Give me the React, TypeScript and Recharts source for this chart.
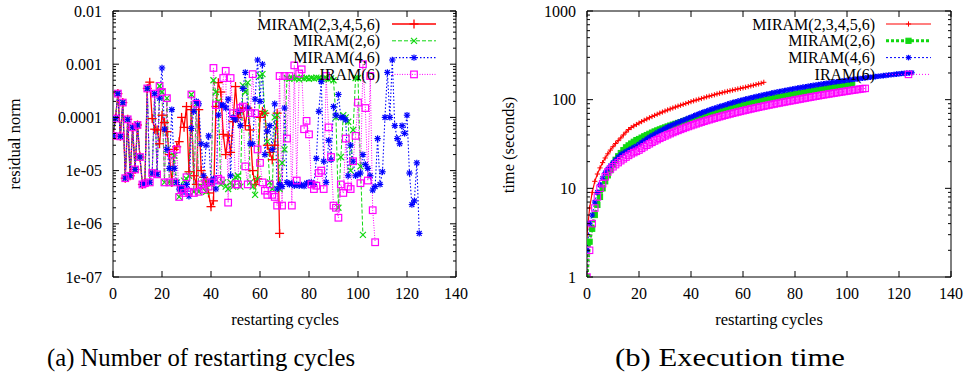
import React from "react";
import { LineChart, Line, XAxis, YAxis, Legend } from "recharts";

const FONT = "'Liberation Serif', 'Times New Roman', serif";

const cycleTicks = [0, 20, 40, 60, 80, 100, 120, 140];
const residualDecades = [1e-7, 1e-6, 1e-5, 1e-4, 1e-3, 1e-2];
const residualLabels = ["1e-07", "1e-06", "1e-05", "0.0001", "0.001", "0.01"];
const timeDecades = [1, 10, 100, 1000];
const timeLabels = ["1", "10", "100", "1000"];
const minorSteps = [1, 2, 3, 4, 5, 6, 7, 8, 9];
const seriesNames = ["MIRAM(2,3,4,5,6)", "MIRAM(2,6)", "MIRAM(4,6)", "IRAM(6)"];

// residual norm per restarting cycle (index = cycle)
const redResidual = [
  4.5e-5, 9.5e-5, 2.8e-4, 4.4e-5, 1.9e-4, 7.2e-6, 9.2e-5, 8e-6, 6.5e-5, 1.05e-5, 7.2e-5, 1.8e-5, 5.5e-6, 5.8e-6, 3.5e-4,
  4.6e-4, 9.5e-5, 6e-5, 5.8e-5, 3.2e-5, 1.1e-4, 8e-5, 5.4e-5, 2e-5, 6e-6,
  2.5e-5, 2.8e-5, 3.5e-5, 1e-4, 6.5e-5, 1.6e-4, 9.5e-6, 1.4e-4, 8e-6, 5.5e-6,
  1.4e-4, 1e-5, 7.5e-6, 6e-6, 3.8e-6, 2.1e-6, 2.7e-6, 1.6e-4, 4.5e-4, 3e-4,
  4.8e-5, 2e-5, 4.5e-5, 2.2e-5, 8.3e-5, 3.8e-4, 1e-4, 1.3e-4, 1.5e-4, 7e-5,
  1.5e-4, 5.8e-5, 1e-5, 5.5e-6, 7e-6, 1e-4, 1.3e-4, 1.2e-4, 3e-5, 2.2e-5,
  1.6e-5, 3e-5, 1.2e-4, 6.6e-7,
];
const greenResidual = [
  4.5e-5, 9.5e-5, 2.8e-4, 4.4e-5, 1.9e-4, 7.2e-6, 9.2e-5, 8e-6, 6.5e-5, 1.05e-5, 7.2e-5, 1.8e-5, 5.5e-6, 5.8e-6, 3.5e-4,
  6e-6, 9e-6, 2.8e-4, 8.5e-6, 3.9e-4, 3e-4, 6e-6, 2.3e-4, 6e-6, 6e-6,
  1.9e-5, 6e-6, 3.2e-6, 4.5e-6, 6.5e-6, 7e-6, 8e-6, 2.7e-4, 4e-6, 1.8e-4,
  4e-6, 5e-6, 6e-6, 4e-6, 6.5e-6, 5.5e-6, 5e-4, 3e-4, 2e-4, 5.5e-6,
  6e-6, 5e-6, 4.5e-6, 6e-6, 5e-6, 7.5e-6, 8e-6, 5e-6, 4e-4, 3e-4,
  4.5e-4, 6e-6, 5e-6, 3.5e-6, 7e-6, 6e-4, 6.5e-4, 1.2e-4, 3.5e-5, 6e-6,
  4.5e-6, 1e-4, 1.1e-4, 4.5e-6, 1.4e-5, 2.5e-5, 5.5e-4, 5.3e-4, 5.6e-4, 5.4e-4,
  5.5e-4, 5.2e-4, 5.6e-4, 5.4e-4, 5.5e-4, 5.3e-4, 5.5e-4, 5.4e-4, 5.6e-4, 5.5e-4,
  5.3e-4, 5.4e-4, 5.5e-4, 5.2e-4, 5.4e-4, 5e-4, 1e-4, 2e-6, 1.8e-5, 1.1e-4,
  1e-4, 8.3e-5, 1e-5, 5.8e-5, 5.5e-4, 5.5e-4, 1.2e-5, 6.2e-7,
];
const blueResidual = [
  4.5e-5, 9.5e-5, 2.8e-4, 4.4e-5, 1.9e-4, 7.2e-6, 9.2e-5, 8e-6, 6.5e-5, 1.05e-5, 7.2e-5, 1.8e-5, 5.5e-6, 5.8e-6, 3.5e-4,
  6e-6, 9e-6, 2.8e-4, 8.5e-6, 2.3e-4, 8.5e-4, 6e-5, 2.5e-5, 1.1e-5, 1.4e-4,
  1.1e-5, 6e-6, 4.5e-6, 5e-6, 4e-6, 5.5e-6, 3.3e-6, 6.2e-5, 1.3e-4, 2e-4,
  1.8e-4, 3.2e-5, 8e-6, 3e-5, 4.5e-5, 6e-6, 7e-6, 4.5e-6, 1.1e-4, 1.7e-4,
  1.7e-4, 1.5e-4, 2.2e-4, 8e-6, 1e-4, 9e-5, 1.3e-4, 7e-5, 3.5e-4, 7e-4,
  1.5e-4, 3.2e-5, 3.2e-5, 2.2e-4, 1.2e-3, 2e-4, 1e-3, 2e-5, 5.5e-5, 7e-5,
  2.5e-5, 1.8e-4, 4.5e-6, 5.5e-6, 5e-6, 1.5e-4, 6e-6, 5.5e-6, 5.8e-6, 5.2e-6,
  5.5e-6, 5.2e-6, 5.4e-6, 5.1e-6, 5.8e-6, 6e-6, 6e-6, 5.5e-6, 1.7e-5, 1.3e-4,
  4.7e-4, 1.5e-5, 6e-6, 3.7e-5, 1.6e-5, 1.6e-4, 1.1e-4, 2.7e-4, 1e-4, 1e-4,
  9e-5, 8e-6, 3e-5, 1.5e-5, 8e-6, 8.5e-6, 9e-6, 2e-5, 1.3e-5, 1.1e-5,
  8e-6, 4.3e-6, 5e-6, 4e-5, 5.5e-6, 9.5e-6, 1e-4, 7e-4, 1e-4, 1.2e-3,
  7e-5, 4e-5, 3.2e-5, 7e-5, 5e-5, 1.1e-4, 9e-6, 2.3e-6, 2.7e-6, 1.4e-5,
  6.6e-7,
];
const magentaResidual = [
  4.5e-5, 9.5e-5, 2.8e-4, 4.4e-5, 1.9e-4, 7.2e-6, 9.2e-5, 8e-6, 6.5e-5, 1.05e-5, 7.2e-5, 1.8e-5, 5.5e-6, 5.8e-6, 3.5e-4,
  6e-6, 9e-6, 2.8e-4, 8.5e-6, 3.9e-4, 3e-4, 6e-6, 2.3e-4, 6e-6, 2e-5,
  6e-6, 2.5e-5, 3.2e-6, 4.5e-6, 3.8e-6, 7.5e-6, 4e-6, 2.7e-4, 3.8e-6, 1.8e-4,
  4e-6, 5.5e-6, 4.5e-6, 6e-6, 5e-6, 6e-6, 8.5e-4, 1.7e-4, 7e-6, 6.5e-6,
  5.5e-4, 7.5e-4, 2.5e-6, 5.5e-4, 1.2e-4, 5.5e-6, 5.5e-6, 1.5e-4, 1.6e-4, 1.2e-5,
  5.5e-6, 1.2e-4, 6.5e-4, 1.2e-4, 2.5e-5, 1.4e-5, 6e-6, 4.2e-6, 3.5e-6, 5.5e-6,
  3.5e-6, 3.2e-6, 2.2e-6, 6e-4, 2.2e-6, 6e-4, 4e-5, 6e-4, 2.2e-6, 9.5e-4,
  6.5e-6, 6.7e-4, 8e-4, 6e-5, 8.6e-5, 4.8e-5, 5.5e-6, 4.5e-6, 5.2e-6, 9e-6,
  1e-5, 4.5e-6, 6e-4, 6.5e-5, 1.8e-5, 2.2e-6, 2e-6, 1.3e-6, 5.5e-6, 3.8e-6,
  4e-5, 5e-6, 4.5e-6, 1.5e-5, 4.5e-5, 1.9e-4, 5.8e-6, 1e-3, 1.5e-4, 6.5e-6,
  6e-4, 1.8e-6, 4.5e-7,
];

// cumulative execution time (seconds) per restarting cycle
const redTime = [
  3, 6, 9, 12, 14.5, 17, 19.5, 22, 24.5, 27, 29.5, 32, 34.5, 37, 40, 43, 46, 48.5, 50.5, 52.5,
  54.5, 56.5, 58.5, 60.5, 62.5, 64.5, 66.5, 68.5, 70.5, 72.5,
  74.5, 76.5, 78.5, 80.5, 82.5, 84.5, 86.5, 88.5, 90.5, 92.5,
  95, 97, 99, 101, 103, 105, 107.5, 109.5, 111.5, 113.5,
  116, 118, 120, 122, 124, 126, 128, 130, 132, 134,
  136, 138, 140.5, 143, 145.5, 148, 150.5, 153, 157,
];
const greenTime = [
  1, 2.5, 3.5, 5, 6.5, 8, 10, 12, 14, 16, 18.5, 21, 23, 25, 27, 29, 30.5, 32, 33.5, 35,
  36, 37.3, 38.6, 39.9, 41.2, 42.5, 43.8, 45, 46.2, 47.4, 48.6, 49.8, 51, 52.2, 53.4, 54.6, 55.8, 57, 58.2, 59.4,
  60.6, 61.9, 63.2, 64.5, 65.8, 67.1, 68.4, 69.7, 71, 72.3, 73.6, 75, 76.4, 77.8, 79.2, 80.6, 82, 83.4, 84.8, 86.2,
  87.6, 89, 90.4, 91.8, 93.2, 94.6, 96, 97.4, 98.8, 100.2, 101.6, 103, 104.4, 105.8, 107.2, 108.6, 110, 111.4, 112.8, 114.2,
  115.6, 117, 118.5, 120, 121.5, 123, 124.5, 126, 127.5, 129, 130.5, 132, 133.5, 135, 136.5, 138, 139.5, 141, 142.5, 144,
  145.5, 147, 148.5,
];
const blueTime = [
  2, 4, 5, 7, 9, 11, 13, 15, 16.5, 18, 19.5, 21, 22.5, 24, 25, 26, 27, 28, 29, 30,
  31.5, 33, 34.6, 36.2, 37.8, 39.4, 41, 42.6, 44.2, 45.8, 47.4, 49, 50.6, 52.2, 53.8, 55.4, 57, 58.6, 60.2, 62,
  63.8, 65.6, 67.4, 69.2, 71, 72.8, 74.6, 76.4, 78.2, 80, 81.8, 83.6, 85.4, 87.2, 89, 90.8, 92.6, 94.4, 96.2, 98,
  99.8, 101.5, 103.2, 104.9, 106.6, 108.3, 110, 111.7, 113.4, 115.1, 116.8, 118.5, 120.2, 121.9, 123.6, 125.3, 127, 128.7, 130.4, 132,
  133.6, 135.2, 136.8, 138.4, 140, 141.6, 143.2, 144.8, 146.4, 148, 149.6, 151.2, 152.8, 154.4, 156, 157.6, 159.2, 160.8, 162.4, 164,
  165.5, 167, 168.5, 170, 171.5, 173, 174.5, 176, 177.5, 179, 180.5, 182, 183.5, 185, 186.5, 188, 189.5, 191, 192.5, 194,
  195.5, 197, 198, 199, 200, 201,
];
const magentaTime = [
  1, 2, 4, 6, 8, 10, 11.3, 13.5, 15.3, 16.5, 17.5, 18.5, 19.5, 20.5, 21.5, 22.5, 23.5, 24.5, 25.3, 26.1,
  27, 28.2, 29.4, 30.6, 31.8, 33, 34.2, 35.4, 36.6, 37.8, 39, 40.2, 41.4, 42.6, 43.8, 45, 46.2, 47.4, 48.6, 49.8,
  51, 52.2, 53.4, 54.6, 55.8, 57, 58.2, 59.4, 60.6, 61.8, 63, 64.2, 65.4, 66.6, 67.8, 69, 70.2, 71.4, 72.6, 73.8,
  75, 76.2, 77.4, 78.6, 79.8, 81, 82.2, 83.4, 84.6, 85.8, 87, 88.2, 89.4, 90.6, 91.8, 93, 94.2, 95.4, 96.6, 97.8,
  99, 100.3, 101.6, 102.9, 104.2, 105.5, 106.8, 108.1, 109.4, 110.7, 112, 113.3, 114.6, 115.9, 117.2, 118.5, 119.8, 121.1, 122.4, 123.7,
  125, 126.3, 127.6, 128.9, 130.2, 131.5, 132.8, 134,
];

const toPoints = (ys: number[]) => ys.map((y, x) => ({ x, y }));
const withMinor = (decades: number[]) =>
  decades.flatMap((d, i) => (i === decades.length - 1 ? [d] : minorSteps.map((m) => m * d)));
const isDecade = (v: number) => Math.abs(Math.log10(v) - Math.round(Math.log10(v))) < 1e-6;

type Kind = "plus" | "cross" | "star" | "box" | "fbox";

function Marker({ kind, cx, cy, r, color, sw }: { kind: Kind; cx: number; cy: number; r: number; color: string; sw: number }) {
  if (cx == null || cy == null || isNaN(cx) || isNaN(cy)) return null;
  const plus = (
    <>
      <line x1={cx - r} x2={cx + r} y1={cy} y2={cy} />
      <line x1={cx} x2={cx} y1={cy - r} y2={cy + r} />
    </>
  );
  const d = r * 0.75;
  const cross = (
    <>
      <line x1={cx - d} x2={cx + d} y1={cy - d} y2={cy + d} />
      <line x1={cx - d} x2={cx + d} y1={cy + d} y2={cy - d} />
    </>
  );
  return (
    <g stroke={color} strokeWidth={sw} fill="none">
      {kind === "plus" && plus}
      {kind === "cross" && cross}
      {kind === "star" && (
        <>
          {plus}
          {cross}
        </>
      )}
      {kind === "box" && <rect x={cx - r} y={cy - r} width={2 * r} height={2 * r} />}
      {kind === "fbox" && <rect x={cx - r} y={cy - r} width={2 * r} height={2 * r} fill={color} />}
    </g>
  );
}

type Style = { color: string; width: number; dash?: string; kind: Kind; r: number; sw: number };

const leftStyles: Style[] = [
  { color: "#ff0000", width: 1.3, kind: "plus", r: 4.5, sw: 1.3 },
  { color: "#10d810", width: 1, dash: "4 2", kind: "cross", r: 4, sw: 1.2 },
  { color: "#0000ff", width: 1.1, dash: "1.5 2", kind: "star", r: 3.2, sw: 1.2 },
  { color: "#ff00ff", width: 1, dash: "1 1.5", kind: "box", r: 3.3, sw: 1.2 },
];
const rightStyles: Style[] = [
  { color: "#ff0000", width: 1.2, kind: "plus", r: 2.6, sw: 1 },
  { color: "#10d810", width: 3, dash: "3 2", kind: "fbox", r: 2.6, sw: 1 },
  { color: "#0000ff", width: 1, dash: "2 2", kind: "star", r: 2.8, sw: 1.2 },
  { color: "#ff00ff", width: 1, dash: "1 2", kind: "box", r: 3.2, sw: 1.1 },
];

const dotFor = (s: Style, prefix: string) => (p: any) =>
  <Marker key={`${prefix}-${p.index}`} kind={s.kind} cx={p.cx} cy={p.cy} r={s.r} color={s.color} sw={s.sw} />;

const BottomTick = (p: any) => (
  <g>
    <line x1={p.x} x2={p.x} y1={p.y} y2={p.y - 6} stroke="#000" />
    <text x={p.x} y={p.y + 22} textAnchor="middle" fontFamily={FONT} fontSize={16} fill="#000">
      {p.payload.value}
    </text>
  </g>
);
const TopTick = (p: any) => <line x1={p.x} x2={p.x} y1={p.y} y2={p.y + 6} stroke="#000" />;
const makeLeftTick = (decades: number[], labels: string[]) => (p: any) => {
  const v = p.payload.value;
  const major = isDecade(v);
  const idx = decades.findIndex((d) => Math.abs(d - v) / d < 1e-6);
  return (
    <g>
      <line x1={p.x} x2={p.x + (major ? 6 : 3)} y1={p.y} y2={p.y} stroke="#000" />
      {major && idx >= 0 && (
        <text x={p.x - 11} y={p.y + 5.5} textAnchor="end" fontFamily={FONT} fontSize={16} fill="#000">
          {labels[idx]}
        </text>
      )}
    </g>
  );
};
const RightTick = (p: any) => {
  const major = isDecade(p.payload.value);
  return <line x1={p.x} x2={p.x - (major ? 6 : 3)} y1={p.y} y2={p.y} stroke="#000" />;
};

function LegendBox({ styles, textRight, x1, x2 }: { styles: Style[]; textRight: number; x1: number; x2: number }) {
  return (
    <svg width={487} height={90} style={{ display: "block", overflow: "visible" }}>
      {seriesNames.map((name, i) => {
        const cy = 24 + i * 16.8;
        const s = styles[i];
        return (
          <g key={name}>
            <text x={textRight} y={cy + 5.5} textAnchor="end" fontFamily={FONT} fontSize={16} fill="#000">
              {name}
            </text>
            <line x1={x1} x2={x2} y1={cy} y2={cy} stroke={s.color} strokeWidth={s.width} strokeDasharray={s.dash} />
            <Marker kind={s.kind} cx={(x1 + x2) / 2} cy={cy} r={s.r} color={s.color} sw={s.sw} />
          </g>
        );
      })}
    </svg>
  );
}

function Panel(props: {
  width: number;
  plot: { top: number; right: number; bottom: number; left: number };
  decades: number[];
  labels: string[];
  series: number[][];
  styles: Style[];
  legend: { textRight: number; x1: number; x2: number };
  id: string;
}) {
  const { width, plot, decades, labels, series, styles, legend, id } = props;
  const yTicks = withMinor(decades);
  const yDomain = [decades[0], decades[decades.length - 1]];
  // each axis takes 1px, so the margins are the plot edges minus that
  const margin = { top: plot.top - 1, right: plot.right - 1, bottom: plot.bottom - 1, left: plot.left - 1 };
  const common = {
    type: "number" as const,
    allowDataOverflow: true,
    tickSize: 0,
    tickMargin: 0,
    tickLine: false,
    interval: 0 as const,
    axisLine: { stroke: "#000", strokeWidth: 1 },
  };
  return (
    <LineChart width={width} height={340} margin={margin}>
      <XAxis xAxisId="b" dataKey="x" domain={[0, 140]} ticks={cycleTicks} height={1} tick={BottomTick} {...common} />
      <XAxis xAxisId="t" orientation="top" dataKey="x" domain={[0, 140]} ticks={cycleTicks} height={1} tick={TopTick} {...common} />
      <YAxis yAxisId="l" scale="log" domain={yDomain} ticks={yTicks} width={1} tick={makeLeftTick(decades, labels)} {...common} />
      <YAxis yAxisId="r" orientation="right" scale="log" domain={yDomain} ticks={yTicks} width={1} tick={RightTick} {...common} />
      <Legend
        layout="vertical"
        align="center"
        verticalAlign="middle"
        wrapperStyle={{ top: 0, left: 0, width: width, height: 90 }}
        content={() => <LegendBox styles={styles} {...legend} />}
      />
      {series.map((ys, i) => (
        <Line
          key={seriesNames[i]}
          name={seriesNames[i]}
          data={toPoints(ys)}
          dataKey="y"
          xAxisId="b"
          yAxisId="l"
          type="linear"
          stroke={styles[i].color}
          strokeWidth={styles[i].width}
          strokeDasharray={styles[i].dash}
          dot={dotFor(styles[i], `${id}${i}`)}
          activeDot={false}
          isAnimationActive={false}
        />
      ))}
    </LineChart>
  );
}

export default function App() {
  const txt = { fontFamily: FONT, fill: "#000" };
  return (
    <div style={{ position: "absolute", left: 0, top: 0, width: 967, height: 382, background: "#fff" }}>
      <div style={{ position: "absolute", left: 0, top: 0 }}>
        <Panel
          id="a"
          width={480}
          plot={{ top: 11, right: 24, bottom: 63, left: 113 }}
          decades={residualDecades}
          labels={residualLabels}
          series={[redResidual, greenResidual, blueResidual, magentaResidual]}
          styles={leftStyles}
          legend={{ textRight: 380, x1: 392, x2: 436 }}
        />
      </div>
      <div style={{ position: "absolute", left: 480, top: 0 }}>
        <Panel
          id="b"
          width={487}
          plot={{ top: 11, right: 16, bottom: 63, left: 107 }}
          decades={timeDecades}
          labels={timeLabels}
          series={[redTime, greenTime, blueTime, magentaTime]}
          styles={rightStyles}
          legend={{ textRight: 395, x1: 406, x2: 451 }}
        />
      </div>
      <svg width={967} height={382} style={{ position: "absolute", left: 0, top: 0, pointerEvents: "none" }}>
        <text transform="translate(20,144) rotate(-90)" textAnchor="middle" {...txt} fontSize={16.5}>
          residual norm
        </text>
        <text transform="translate(514,145) rotate(-90)" textAnchor="middle" {...txt} fontSize={16.5}>
          time (seconds)
        </text>
        <text x={285} y={325} textAnchor="middle" {...txt} fontSize={16.5}>
          restarting cycles
        </text>
        <text x={769} y={325} textAnchor="middle" {...txt} fontSize={16.5}>
          restarting cycles
        </text>
        <text x={47} y={366} textLength={308} lengthAdjust="spacingAndGlyphs" {...txt} fontSize={25}>
          (a) Number of restarting cycles
        </text>
        <text x={615} y={366} textLength={230} lengthAdjust="spacingAndGlyphs" {...txt} fontSize={25}>
          (b) Execution time
        </text>
      </svg>
    </div>
  );
}
